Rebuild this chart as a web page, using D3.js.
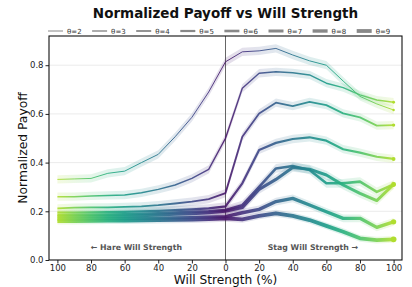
<!DOCTYPE html>
<html><head><meta charset="utf-8">
<script src="https://cdn.jsdelivr.net/npm/d3@7"></script>
<style>body{margin:0;background:#fff;} svg{display:block;font-family:"DejaVu Sans",sans-serif;}</style>
</head><body>
<script>
const xValues = [-100,-90,-80,-70,-60,-50,-40,-30,-20,-10,0,10,20,30,40,50,60,70,80,90,100];
const thetas = ["θ=2","θ=3","θ=4","θ=5","θ=6","θ=7","θ=8","θ=9"];
const theta2 = [0.331,0.333,0.335,0.356,0.365,0.40,0.434,0.506,0.586,0.69,0.814,0.855,0.859,0.869,0.842,0.818,0.80,0.735,0.672,0.641,0.616];
const theta3 = [0.26,0.26,0.263,0.265,0.267,0.276,0.29,0.308,0.335,0.372,0.50,0.705,0.767,0.773,0.769,0.76,0.726,0.708,0.678,0.657,0.648];
const theta4 = [0.212,0.215,0.216,0.216,0.218,0.22,0.225,0.232,0.24,0.25,0.275,0.506,0.602,0.646,0.632,0.649,0.636,0.602,0.586,0.552,0.554];
const theta5 = [0.195,0.195,0.196,0.197,0.198,0.20,0.202,0.205,0.208,0.212,0.22,0.315,0.452,0.481,0.497,0.504,0.49,0.455,0.441,0.424,0.415];
const theta6 = [0.185,0.186,0.186,0.187,0.188,0.19,0.192,0.195,0.198,0.20,0.205,0.225,0.30,0.376,0.386,0.37,0.315,0.315,0.322,0.28,0.31];
const theta7 = [0.178,0.178,0.179,0.18,0.18,0.182,0.185,0.188,0.19,0.194,0.20,0.215,0.29,0.331,0.38,0.373,0.349,0.308,0.274,0.244,0.31];
const theta8 = [0.168,0.168,0.169,0.17,0.17,0.171,0.172,0.173,0.174,0.176,0.178,0.194,0.208,0.24,0.253,0.226,0.198,0.171,0.171,0.134,0.157];
const theta9 = [0.16,0.16,0.161,0.162,0.162,0.163,0.164,0.165,0.166,0.168,0.171,0.167,0.181,0.192,0.181,0.164,0.14,0.116,0.089,0.082,0.085];
const series = [theta2,theta3,theta4,theta5,theta6,theta7,theta8,theta9];
const bandWidth = [0.017,0.017,0.017,0.017,0.018,0.018,0.016,0.014];
const lineWidths = [1,1.4,1.8,2.2,2.6,3,3.4,3.8];
const xTicks = [-100,-80,-60,-40,-20,0,20,40,60,80,100];
const yTicks = [0,0.2,0.4,0.6,0.8];

const W=412,H=287;
const L=49,R=402,T=36,B=260;
const svg=d3.select("body").append("svg").attr("width",W).attr("height",H);
const x=d3.scaleLinear().domain([-105,105]).range([L,R]);
const y=d3.scaleLinear().domain([0,0.92]).range([B,T]);

const defs=svg.append("defs");
const grad=defs.append("linearGradient").attr("id","vg").attr("gradientUnits","userSpaceOnUse")
  .attr("x1",x(-100)).attr("x2",x(100)).attr("y1",0).attr("y2",0);
xValues.forEach(v=>{
  grad.append("stop").attr("offset",(v+100)/200).attr("stop-color",d3.interpolateViridis(0.06+0.82*Math.abs(v)/100));
});
defs.append("clipPath").attr("id","clip").append("rect").attr("x",L).attr("y",T).attr("width",R-L).attr("height",B-T);

// grid
svg.append("g").selectAll("line").data(yTicks.slice(1)).join("line")
  .attr("x1",L).attr("x2",R).attr("y1",d=>y(d)).attr("y2",d=>y(d))
  .attr("stroke","#e6e6e6").attr("stroke-width",0.8);

// zero line
svg.append("line").attr("x1",x(0)).attr("x2",x(0)).attr("y1",T).attr("y2",B).attr("stroke","#666").attr("stroke-width",1);

const g=svg.append("g").attr("clip-path","url(#clip)");
series.forEach((s,i)=>{
  const area=d3.area().x((d,j)=>x(xValues[j])).y0(d=>y(d-bandWidth[i])).y1(d=>y(d+bandWidth[i]));
  g.append("path").attr("d",area(s)).attr("fill","url(#vg)").attr("fill-opacity",0.15);
});
series.forEach((s,i)=>{
  const line=d3.line().x((d,j)=>x(xValues[j])).y(d=>y(d));
  g.append("path").attr("d",line(s)).attr("fill","none").attr("stroke","url(#vg)")
   .attr("stroke-width",lineWidths[i]).attr("stroke-linejoin","round").attr("stroke-opacity",0.9);
  g.append("circle").attr("cx",x(100)).attr("cy",y(s[s.length-1])).attr("r",lineWidths[i]*0.6+0.6)
   .attr("fill",d3.interpolateViridis(0.88));
});

// axes
const xa=svg.append("g").attr("transform",`translate(0,${B})`)
  .call(d3.axisBottom(x).tickValues(xTicks).tickFormat(d=>Math.abs(d)).tickSize(3.5).tickPadding(1.5));
const ya=svg.append("g").attr("transform",`translate(${L},0)`)
  .call(d3.axisLeft(y).tickValues(yTicks).tickFormat(d3.format(".1f")).tickSize(3.5).tickPadding(2));
[xa,ya].forEach(a=>{a.select(".domain").remove();a.selectAll("text").attr("font-size",8.5).attr("fill","#222").attr("font-family","DejaVu Sans");a.selectAll("line").attr("stroke","#222");});

svg.append("rect").attr("x",L).attr("y",T).attr("width",R-L).attr("height",B-T).attr("fill","none").attr("stroke","#111").attr("stroke-width",1.1);

// annotations
svg.append("text").attr("x",x(-53)).attr("y",249.5).attr("text-anchor","middle").attr("font-size",7.8).attr("font-weight","bold").attr("fill","#555").text("← Hare Will Strength");
svg.append("text").attr("x",x(52)).attr("y",249.5).attr("text-anchor","middle").attr("font-size",7.8).attr("font-weight","bold").attr("fill","#555").text("Stag Will Strength →");

// labels
svg.append("text").attr("x",(L+R)/2).attr("y",18).attr("text-anchor","middle").attr("font-size",13.5).attr("font-weight","bold").attr("fill","#111").text("Normalized Payoff vs Will Strength");
svg.append("text").attr("x",x(0)).attr("y",283.5).attr("text-anchor","middle").attr("font-size",12.2).attr("fill","#111").text("Will Strength (%)");
svg.append("text").attr("transform",`translate(27,${(T+B)/2}) rotate(-90)`).attr("text-anchor","middle").attr("font-size",12.3).attr("fill","#111").text("Normalized Payoff");

// legend
const lg=svg.append("g");
thetas.forEach((t,i)=>{
  const lx=48+i*44.1;
  lg.append("line").attr("x1",lx).attr("x2",lx+15).attr("y1",31).attr("y2",31).attr("stroke","#888").attr("stroke-width",lineWidths[i]);
  lg.append("text").attr("x",lx+19).attr("y",33.5).attr("font-size",7).attr("fill","#333").text(t);
});
</script>
</body></html>
